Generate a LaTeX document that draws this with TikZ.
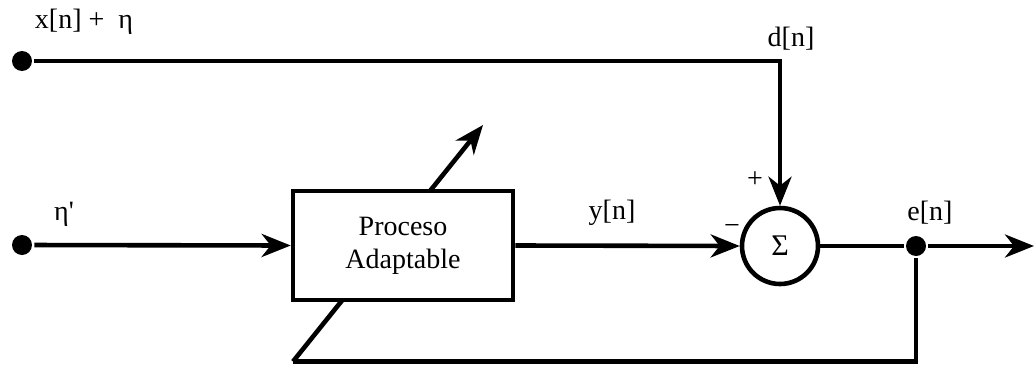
\documentclass[tikz,border=0pt]{standalone}
\usepackage{fontspec}
\setmainfont{Liberation Serif}
\newfontfamily\tnr{Liberation Serif}
\usetikzlibrary{arrows.meta}
\begin{document}
\begin{tikzpicture}[x=1pt,y=-1pt, line width=4.6pt,
  arr/.style={-{Stealth[length=29pt,width=23pt,inset=9pt]}},
  dot/.style={circle,fill,inner sep=0pt,minimum size=20pt},
  lbl/.style={font=\tnr\fontsize{28}{33}\selectfont, inner sep=0pt},
  blk/.style={draw,fill=white,minimum width=220pt,minimum height=109pt,align=center,font=\tnr\fontsize{28}{33}\selectfont},
  sumnode/.style={draw,circle,fill=white,minimum size=76pt,inner sep=0pt,font=\tnr\fontsize{30}{34}\selectfont}]
\useasboundingbox (0,0) rectangle (1035,364);
% adaptation arrow (behind box)
\coordinate (fbc) at (293,361.5);
\coordinate (adapt) at (483,125);
\draw[arr] (fbc) -- (adapt);
\node[blk] (box) at (403,245.5) {Proceso\\Adaptable};
\node[sumnode] (sum) at (780,246) {Σ};
\node[dot] (xin) at (22,61) {};
\node[dot] (eta) at (22,245) {};
\node[dot] (jn) at (916,246) {};
\coordinate (out) at (1034,246);
\draw[arr] (xin) -| (sum.north);
\draw[arr] (eta) -- (box.west);
\draw[arr] (box.east) -- (sum.west);
\draw (sum.east) -- (jn);
\draw[arr] (jn) -- (out);
\draw (jn) |- (fbc);
% labels
\node[lbl] (lx) at (84,22) {x[n] +\ \ η};
\node[lbl] (ld) at (791,39) {d[n]};
\node[lbl] (lp) at (755,180) {+};
\node[lbl] (lm) at (732,229) {−};
\node[lbl] (le) at (64,214) {η\textquotesingle};
\node[lbl] (ly) at (612,213) {y[n]};
\node[lbl] (len) at (930,213) {e[n]};
\end{tikzpicture}
\end{document}
